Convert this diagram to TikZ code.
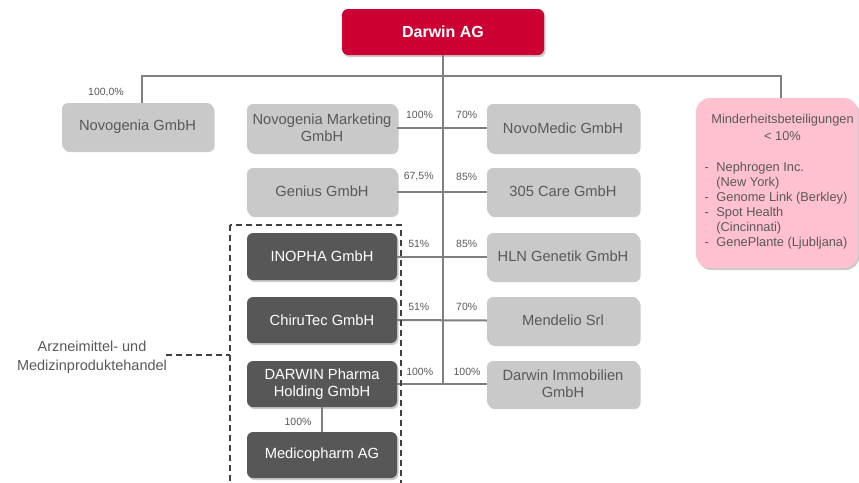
\documentclass[tikz,border=0pt]{standalone}
\usepackage{fontspec}
\setmainfont{Liberation Sans}
\usetikzlibrary{shadows}
\definecolor{darwinred}{HTML}{CC0033}
\definecolor{boxlight}{HTML}{C9C9C9}
\definecolor{boxdark}{HTML}{575757}
\definecolor{txtgrey}{HTML}{595959}
\definecolor{linegrey}{HTML}{808080}
\definecolor{dashgrey}{HTML}{404040}
\definecolor{minpink}{HTML}{FFC0CF}
\begin{document}
\begin{tikzpicture}[x=1pt,y=-1pt,
  boxshadow/.style={drop shadow={shadow xshift=1.5pt,shadow yshift=-2pt,opacity=0.35,fill=black!60}},
  company/.style={rounded corners=6pt,minimum width=150pt,boxshadow,inner sep=0pt,
    align=center,font=\fontsize{14.7}{17}\selectfont},
  lightbox/.style={company,fill=boxlight,text=txtgrey},
  darkbox/.style={company,fill=boxdark,text=white},
  share/.style={font=\fontsize{10.5}{12}\selectfont,text=txtgrey,inner sep=0pt},
  link/.style={draw=linegrey,line width=2pt},
  group/.style={draw=dashgrey,line width=1.8pt,dash pattern=on 6pt off 4pt}]

\useasboundingbox (0,0) rectangle (859,482);
\clip (0,0) rectangle (859,482);

% parent company
\node[rounded corners=6pt,fill=darwinred,text=white,minimum width=202pt,minimum height=46pt,
  boxshadow,font=\fontsize{16}{19}\selectfont\bfseries] (dag) at (443,32) {Darwin AG};

% subsidiaries
\node[lightbox,minimum width=151pt,minimum height=47pt] (nov) at (137.5,126.5) {Novogenia GmbH};
\node[lightbox,minimum height=48pt] (nmk) at (322,128) {Novogenia Marketing\\GmbH};
\node[lightbox,minimum height=47pt] (gen) at (322,191.5) {Genius GmbH};
\node[darkbox,minimum height=47pt] (ino) at (322,256.5) {INOPHA GmbH};
\node[darkbox,minimum height=46pt] (chi) at (322,320) {ChiruTec GmbH};
\node[darkbox,minimum height=46pt] (dph) at (322,384) {DARWIN Pharma\\Holding GmbH};
\node[darkbox,minimum height=46pt] (med) at (322,455) {Medicopharm AG};

\node[lightbox,minimum width=152pt,minimum height=48pt] (nmd) at (563,128) {NovoMedic GmbH};
\node[lightbox,minimum width=152pt,minimum height=47pt] (care) at (563,191.5) {305 Care GmbH};
\node[lightbox,minimum width=152pt,minimum height=47pt] (hln) at (563,256.5) {HLN Genetik GmbH};
\node[lightbox,minimum width=152pt,minimum height=47pt] (men) at (563,320.5) {Mendelio Srl};
\node[lightbox,minimum width=152pt,minimum height=46pt] (dim) at (563,384) {Darwin Immobilien\\GmbH};

% minority holdings
\node[rounded corners=14pt,fill=minpink,minimum width=162pt,minimum height=170pt,boxshadow] (pink) at (777,183) {};
\node[text=txtgrey,align=center,inner sep=0pt,font=\fontsize{12.8}{17}\selectfont] (pinkhead) at (782.5,127)
  {Minderheitsbeteiligungen\\< 10\%};
\node[text=txtgrey,inner sep=0pt,anchor=north west,font=\fontsize{12.8}{15}\selectfont] (pinklist) at (704.5,161)
  {\begin{tabular}{@{}l@{\hspace{7.5pt}}l@{}}
   - & Nephrogen Inc.\\
     & (New York)\\
   - & Genome Link (Berkley)\\
   - & Spot Health\\
     & (Cincinnati)\\
   - & GenePlante (Ljubljana)
   \end{tabular}};

% ownership lines
\coordinate (barL) at (142,76);
\coordinate (barR) at (781,76);
\coordinate (trunk) at (443,385);
\draw[link] (dag.south) -- (trunk);
\draw[link] (barL |- nov.north) -- (barL) -- (barR) -- (barR |- pink.north);
\draw[link] (nmk.east) -- (nmd.west);
\draw[link] (gen.east) -- (care.west);
\draw[link] (ino.east) -- (hln.west);
\draw[link] (chi.east) -- (men.west);
\draw[link] (dph.east) -- (dim.west);
\draw[link] (dph.south) -- (med.north);

% shares
\node[share] (s0) at (106,93) {100,0\%};
\node[share] (s1) at (419.5,115) {100\%};
\node[share] (s2) at (466.7,115) {70\%};
\node[share] (s3) at (418.7,177) {67,5\%};
\node[share] (s4) at (466.7,177) {85\%};
\node[share] (s5) at (418.8,244) {51\%};
\node[share] (s6) at (466.7,244) {85\%};
\node[share] (s7) at (418.8,307) {51\%};
\node[share] (s8) at (466.7,307) {70\%};
\node[share] (s9) at (419.7,372) {100\%};
\node[share] (s10) at (467,372) {100\%};
\node[share] (s11) at (298,421.7) {100\%};

% trading group
\coordinate (grpTL) at (230,225);
\coordinate (grpBR) at (401,500);
\coordinate (grpTip) at (166,355);
\draw[group] (grpTL) rectangle (grpBR);
\draw[group] (grpTip) -- (grpTL |- grpTip);
\node[text=txtgrey,align=center,inner sep=0pt,font=\fontsize{14.5}{19}\selectfont] (grplabel) at (92,357.5)
  {Arzneimittel- und\\Medizinproduktehandel};
\end{tikzpicture}
\end{document}
